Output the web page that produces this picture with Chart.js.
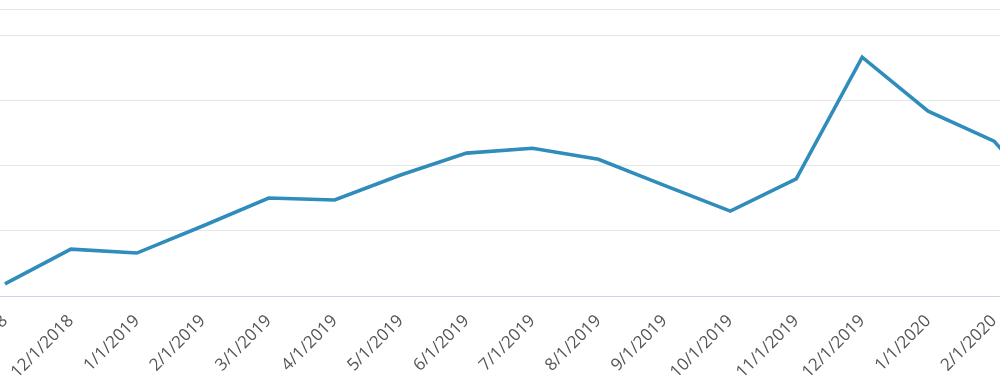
<!DOCTYPE html>
<html>
<head>
<meta charset="utf-8">
<script src="https://cdn.jsdelivr.net/npm/chart.js@4/dist/chart.umd.min.js"></script>
<style>
    html, body { margin: 0; padding: 0; background: #fff; overflow: hidden; }
    #wrap { position: absolute; left: -200px; top: 0; width: 1300px; height: 382px; }
</style>
</head>
<body>
<div id="wrap"><canvas id="trendChart"></canvas></div>
<script>
// Month labels (first one sits off-screen to the left, as in the cropped original)
const months = [
    '10/1/2018', '11/1/2018', '12/1/2018', '1/1/2019', '2/1/2019', '3/1/2019',
    '4/1/2019', '5/1/2019', '6/1/2019', '7/1/2019', '8/1/2019', '9/1/2019',
    '10/1/2019', '11/1/2019', '12/1/2019', '1/1/2020', '2/1/2020', '3/1/2020'
];

// Values (grid step = 10)
const values = [
    null, 1.85, 7.2, 6.6, 10.75, 15.05,
    14.75, 18.6, 21.95, 22.7, 21.0, 17.0,
    13.05, 18.0, 36.7, 28.4, 23.8, 12.4
];

const yMin = 0;
const yMax = 44.1;
const yStep = 10;

const ctx = document.getElementById('trendChart');

new Chart(ctx, {
    type: 'line',
    data: {
        labels: months,
        datasets: [{
            data: values,
            borderColor: '#2f8cbb',
            borderWidth: 3.6,
            pointRadius: 0,
            tension: 0,
            fill: false
        }]
    },
    options: {
        responsive: true,
        maintainAspectRatio: false,
        animation: false,
        layout: {
            padding: { top: 9, right: 40, left: 0, bottom: 0 }
        },
        plugins: {
            legend: { display: false },
            tooltip: { enabled: false }
        },
        scales: {
            x: {
                offset: false,
                grid: { display: false },
                border: { display: true, color: '#ccd6eb', width: 1 },
                ticks: {
                    autoSkip: false,
                    minRotation: 45,
                    maxRotation: 45,
                    padding: 7,
                    color: '#555555',
                    font: { family: 'Open Sans', size: 17 }
                },
                afterFit: (scale) => { scale.height = 86; }
            },
            y: {
                min: yMin,
                max: yMax,
                grid: { color: '#e6e6e6', lineWidth: 1, drawTicks: false },
                border: { display: false },
                ticks: { display: false, stepSize: yStep },
                afterFit: (scale) => { scale.width = 139; }
            }
        }
    }
});
</script>
</body>
</html>
